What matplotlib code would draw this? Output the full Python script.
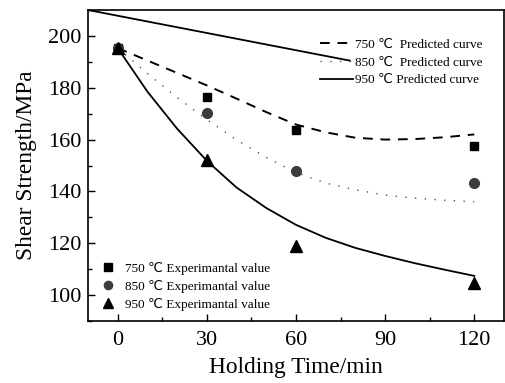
import matplotlib
matplotlib.use("Agg")
import matplotlib.pyplot as plt
from matplotlib import font_manager
from matplotlib.ticker import MultipleLocator

# pick a Times-like serif font that is installed
_names = {f.name for f in font_manager.fontManager.ttflist}
_serif = None
for cand in ['Liberation Serif', 'Times New Roman', 'Tinos', 'Nimbus Roman', 'STIXGeneral', 'DejaVu Serif']:
    if cand in _names:
        _serif = cand
        break
FAMILY = [_serif, 'DejaVu Sans'] if _serif else ['DejaVu Serif', 'DejaVu Sans']
plt.rcParams['font.family'] = FAMILY

# Experimental values
t_exp = [0, 30, 60, 120]
exp_750 = [195.3, 176.4, 163.7, 157.6]
exp_850 = [195.3, 170.3, 147.9, 143.4]
exp_950 = [195.3, 152.2, 119.0, 104.5]

# Predicted curves
t_curve = [0, 10, 20, 30, 40, 50, 60, 70, 80, 90, 100, 110, 120]
pred_750 = [195.3, 190.5, 185.7, 180.9, 175.8, 170.6, 165.8, 162.8, 160.7, 160.0, 160.2, 160.9, 162.0]
pred_850 = [195.3, 185.5, 176.2, 167.7, 159.9, 153.1, 147.3, 143.2, 140.6, 138.6, 137.4, 136.6, 136.0]
pred_950 = [195.3, 178.5, 164.2, 151.8, 141.5, 133.6, 127.1, 122.1, 118.2, 115.1, 112.3, 109.8, 107.4]

# stray straight line present in the original figure
stray_x = [-10, 78.4]
stray_y = [210, 190.4]

xticks = [0, 30, 60, 90, 120]
yticks = [100, 120, 140, 160, 180, 200]

fig = plt.figure(figsize=(5.05, 3.83), dpi=100)
ax = fig.add_axes([88/505, 1 - 321/383, (504-88)/505, (321-10)/383])

ax.plot(stray_x, stray_y, color='black', lw=1.3, solid_capstyle='butt')

l1, = ax.plot(t_curve, pred_750, color='black', lw=1.4, ls=(0, (5, 4)))
l2, = ax.plot(t_curve, pred_850, color='#555555', lw=1.0, ls=(0, (1, 6)))
l3, = ax.plot(t_curve, pred_950, color='black', lw=1.3)

m1, = ax.plot(t_exp, exp_750, ls='none', marker='s', ms=6, color='black')
m2, = ax.plot(t_exp, exp_850, ls='none', marker='o', ms=7, color='#3c3c3c')
m3, = ax.plot(t_exp, exp_950, ls='none', marker='^', ms=8, color='black')

ax.set_xlim(-10, 130)
ax.set_ylim(90, 210)
ax.set_xticks(xticks)
ax.set_yticks(yticks)
ax.xaxis.set_minor_locator(MultipleLocator(15))
ax.yaxis.set_minor_locator(MultipleLocator(10))
ax.tick_params(which='both', direction='in', top=False, right=False, labelsize=16)
ax.tick_params(axis='x', which='major', pad=7)
ax.tick_params(axis='y', which='major', pad=5)
ax.tick_params(which='major', length=5, width=1)
ax.tick_params(which='minor', length=3, width=1)
for s in ax.spines.values():
    s.set_linewidth(1.2)

ax.set_xlabel('Holding Time/min', fontsize=16.8, labelpad=5)
ax.set_ylabel('Shear Strength/MPa', fontsize=16.8, labelpad=8)

leg1 = ax.legend([l1, l2, l3],
                 ['750 ℃  Predicted curve', '850 ℃  Predicted curve', '950 ℃ Predicted curve'],
                 loc='upper right', bbox_to_anchor=(0.962, 0.925), frameon=False,
                 fontsize=9.5, handlelength=2.5, handletextpad=0.2, labelspacing=0.42,
                 borderaxespad=0)
ax.add_artist(leg1)
ax.legend([m1, m2, m3],
          ['750 ℃ Experimantal value', '850 ℃ Experimantal value', '950 ℃ Experimantal value'],
          loc='lower left', bbox_to_anchor=(0.02, 0.015), frameon=False,
          fontsize=9.5, handlelength=1.0, handletextpad=0.8, labelspacing=0.38,
          borderaxespad=0, markerscale=0.85)

fig.savefig('out.png', dpi=100)
